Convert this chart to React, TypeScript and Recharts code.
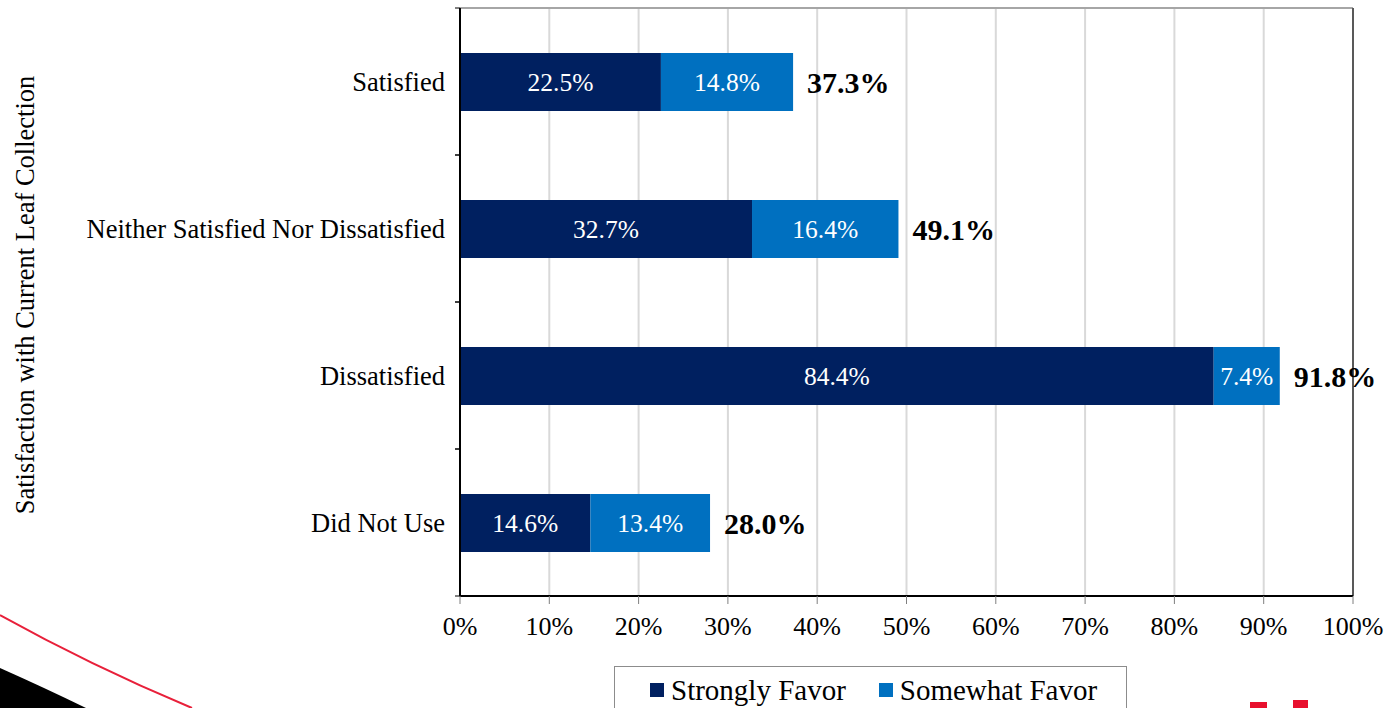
import React from "react";
import {
  BarChart,
  Bar,
  XAxis,
  YAxis,
  CartesianGrid,
  LabelList,
  ReferenceLine,
} from "recharts";

const categories = [
  "Satisfied",
  "Neither Satisfied Nor Dissatisfied",
  "Dissatisfied",
  "Did Not Use",
];
const stronglyFavor = [22.5, 32.7, 84.4, 14.6];
const somewhatFavor = [14.8, 16.4, 7.4, 13.4];
const totals = [37.3, 49.1, 91.8, 28.0];
const xTicks = [0, 10, 20, 30, 40, 50, 60, 70, 80, 90, 100];
const seriesNames = ["Strongly Favor", "Somewhat Favor"];
const yTitle = "Satisfaction with Current Leaf Collection";

const data = categories.map((c, i) => ({
  category: c,
  strong: stronglyFavor[i],
  somewhat: somewhatFavor[i],
  total: totals[i],
}));

const W = 1391;
const H = 708;
const X_AXIS_H = 112;
const MARGIN = { top: 8, right: 38, bottom: 0, left: 0 };
const PLOT_H = H - MARGIN.top - X_AXIS_H;
const HALF_BAND = PLOT_H / categories.length / 2;
const FONT = '"Liberation Serif", "Times New Roman", serif';
const NAVY = "#002060";
const BLUE = "#0070C0";
const seriesColors = [NAVY, BLUE];

const pct = (v: any) => `${Number(v).toFixed(1)}%`;

const YTick = (props: any) => {
  const { x, y, payload } = props;
  return (
    <g>
      <line x1={x - 5} x2={x} y1={y - HALF_BAND} y2={y - HALF_BAND} stroke="#000" strokeWidth={1} />
      <line x1={x - 5} x2={x} y1={y + HALF_BAND} y2={y + HALF_BAND} stroke="#000" strokeWidth={1} />
      <text
        x={x - 15}
        y={y}
        dy="0.35em"
        textAnchor="end"
        fill="#000"
        fontSize={26.5}
        style={{ fontFamily: FONT }}
      >
        {payload.value}
      </text>
    </g>
  );
};

const YTitle = (props: any) => {
  const vb = props.viewBox || {};
  const cx = 25;
  const cy = (vb.y || 0) + (vb.height || 0) / 2 - 7;
  return (
    <text
      x={cx}
      y={cy}
      transform={`rotate(-90, ${cx}, ${cy})`}
      textAnchor="middle"
      dominantBaseline="central"
      fontSize={26.5}
      style={{ fontFamily: FONT }}
      fill="#000"
    >
      {yTitle}
    </text>
  );
};

const LegendBox = () => (
  <div
    style={{
      position: "absolute",
      left: 614,
      top: 666,
      width: 513,
      height: 60,
      border: "1px solid #8c8c8c",
      boxSizing: "border-box",
      display: "flex",
      flexWrap: "nowrap",
      alignItems: "flex-start",
      paddingLeft: 35,
      paddingTop: 5,
      fontFamily: FONT,
      fontSize: 29,
      color: "#000",
      background: "#fff",
      whiteSpace: "nowrap",
    }}
  >
    {seriesNames.map((name, i) => (
      <div
        key={i}
        style={{ display: "flex", alignItems: "center", marginRight: 33, flexShrink: 0, whiteSpace: "nowrap" }}
      >
        <span
          style={{
            display: "inline-block",
            width: 14,
            height: 14,
            background: seriesColors[i],
            marginRight: 7,
            flexShrink: 0,
          }}
        />
        <span style={{ lineHeight: "36px", whiteSpace: "nowrap" }}>{name}</span>
      </div>
    ))}
  </div>
);

export default function App() {
  return (
    <div
      style={{
        position: "absolute",
        left: 0,
        top: 0,
        width: W,
        height: H,
        overflow: "hidden",
        background: "#fff",
        fontFamily: FONT,
      }}
    >
      <BarChart
        width={W}
        height={H}
        data={data}
        layout="vertical"
        margin={MARGIN}
        barSize={58}
        style={{ fontFamily: FONT }}
      >
        <CartesianGrid stroke="#d9d9d9" strokeWidth={2} horizontal={false} vertical={true} />
        <CartesianGrid
          stroke="#a6a6a6"
          strokeWidth={2}
          vertical={false}
          horizontalCoordinatesGenerator={({ offset }: any) => [offset.top]}
        />
        <XAxis
          type="number"
          domain={[0, 100]}
          ticks={xTicks}
          height={X_AXIS_H}
          tickFormatter={(v: any) => `${v}%`}
          tickSize={8}
          tickMargin={13}
          axisLine={{ stroke: "#000", strokeWidth: 2 }}
          tickLine={{ stroke: "#7f7f7f" }}
          tick={{ fill: "#000", fontSize: 26, style: { fontFamily: FONT } }}
          interval={0}
        />
        <YAxis
          type="category"
          dataKey="category"
          width={460}
          tickSize={0}
          tickMargin={0}
          tickLine={false}
          axisLine={{ stroke: "#000", strokeWidth: 2 }}
          tick={<YTick />}
          label={<YTitle />}
          interval={0}
        />
        <ReferenceLine x={100} stroke="#595959" strokeWidth={2} />
        <Bar dataKey="strong" name={seriesNames[0]} stackId="a" fill={NAVY} isAnimationActive={false}>
          <LabelList
            dataKey="strong"
            position="center"
            formatter={pct}
            fill="#fff"
            fontSize={25.5}
            style={{ fontFamily: FONT }}
          />
        </Bar>
        <Bar dataKey="somewhat" name={seriesNames[1]} stackId="a" fill={BLUE} isAnimationActive={false}>
          <LabelList
            dataKey="somewhat"
            position="center"
            formatter={pct}
            fill="#fff"
            fontSize={25.5}
            style={{ fontFamily: FONT }}
          />
          <LabelList
            dataKey="total"
            position="right"
            offset={14}
            formatter={pct}
            fill="#000"
            fontSize={30}
            fontWeight="bold"
            style={{ fontFamily: FONT }}
          />
        </Bar>
      </BarChart>
      <LegendBox />
      <svg
        width={W}
        height={H}
        style={{ position: "absolute", left: 0, top: 0, pointerEvents: "none" }}
      >
        <path d="M0,615 Q90,665 192,708" fill="none" stroke="#e8203a" strokeWidth={2} />
        <path d="M0,668 Q45,688 86,708 L0,708 Z" fill="#000" />
        <rect x={1250} y={702} width={17} height={6} fill="#e8102e" />
        <rect x={1293} y={700} width={15} height={8} fill="#e8102e" />
      </svg>
    </div>
  );
}
